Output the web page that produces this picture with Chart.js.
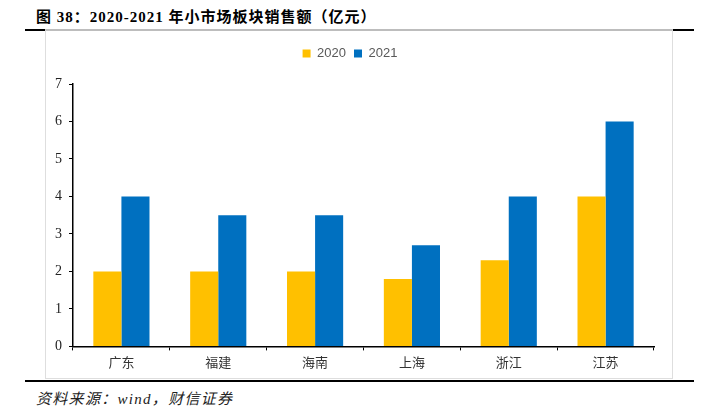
<!DOCTYPE html>
<html>
<head>
<meta charset="utf-8">
<script src="https://cdn.jsdelivr.net/npm/chart.js@4"></script>
<style>
  body { margin: 0; width: 713px; height: 420px; background: #fff; position: relative; overflow: hidden; }
  #title { position: absolute; left: 36px; top: 5px; font: bold 15px "Liberation Serif", "Noto Sans CJK SC"; color: #000; letter-spacing: 1px; }
  .rule { position: absolute; left: 25px; width: 669px; height: 2px; background: #000; }
  #box { position: absolute; left: 45px; top: 29px; width: 626px; height: 347px; border: 1px solid #dedede; border-top: 2px solid #bdbdbd; }
  #myChart { position: absolute; left: 0; top: 0; }
  #src { position: absolute; left: 36px; top: 387px; font: italic 15px "Liberation Serif", "Noto Sans CJK SC"; color: #222; letter-spacing: 1.3px; }
</style>
</head>
<body>
<div id="title">图 38：2020-2021 年小市场板块销售额（亿元）</div>
<div class="rule" style="top:29px"></div>
<div class="rule" style="top:380px"></div>
<div id="box"><canvas id="myChart" width="626" height="346"></canvas></div>
<div id="src">资料来源：wind，财信证券</div>
<script>
const categories = ['广东', '福建', '海南', '上海', '浙江', '江苏'];
const sales2020 = [2, 2, 2, 1.8, 2.3, 4];
const sales2021 = [4, 3.5, 3.5, 2.7, 4, 6];
const yTicks = [0, 1, 2, 3, 4, 5, 6, 7];

const ctx = document.getElementById('myChart').getContext('2d');

// push the plot area down below the legend, like the original
const legendGap = {
    id: 'legendGap',
    beforeInit(chart) {
        const fit = chart.legend.fit;
        chart.legend.fit = function() {
            fit.bind(chart.legend)();
            this.height = 45;
        };
    }
};

const myChart = new Chart(ctx, {
    type: 'bar',
    data: {
        labels: categories,
        datasets: [{
            label: '2020',
            data: sales2020,
            backgroundColor: '#FFC000',
            barPercentage: 1,
            categoryPercentage: 0.58
        }, {
            label: '2021',
            data: sales2021,
            backgroundColor: '#0070C0',
            barPercentage: 1,
            categoryPercentage: 0.58
        }]
    },
    options: {
        responsive: false,
        animation: false,
        layout: { padding: { top: 8, right: 18, bottom: 3, left: 0 } },
        scales: {
            x: {
                grid: { drawOnChartArea: false, tickLength: 4, color: '#000' },
                border: { color: '#000', width: 1.5 },
                ticks: { color: '#333', font: { family: '"Noto Sans CJK SC"', size: 13 }, padding: 4 }
            },
            y: {
                min: 0,
                max: 7,
                afterFit: scale => { scale.width = 27; },
                afterBuildTicks: scale => { scale.ticks = yTicks.map(v => ({ value: v })); },
                grid: { drawOnChartArea: false, tickLength: 4, color: '#000' },
                border: { color: '#000', width: 1.5 },
                ticks: { color: '#222', font: { family: '"Liberation Serif"', size: 14 }, padding: 7 }
            }
        },
        plugins: {
            legend: {
                display: true,
                position: 'top',
                labels: { boxWidth: 8, boxHeight: 8, color: '#595959', font: { family: '"Liberation Sans"', size: 13 }, padding: 8 }
            },
            tooltip: { enabled: false }
        }
    },
    plugins: [legendGap]
});
</script>
</body>
</html>
